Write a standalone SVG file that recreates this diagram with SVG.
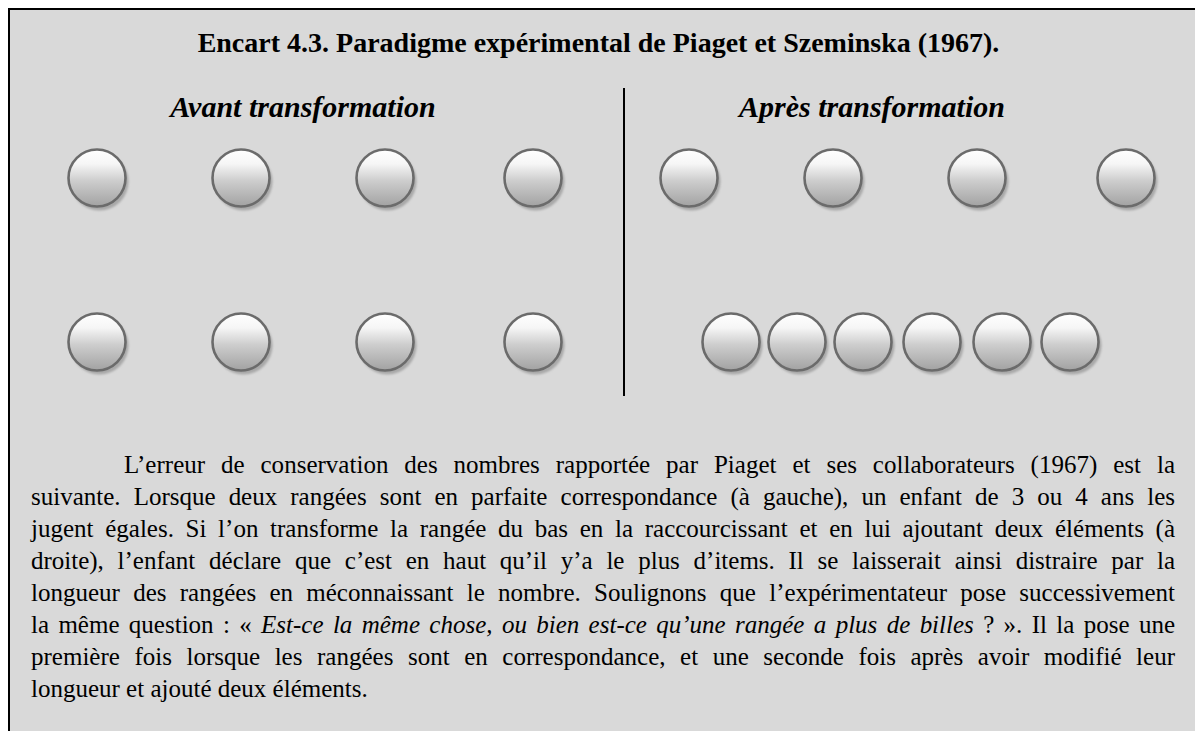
<svg xmlns="http://www.w3.org/2000/svg" xmlns:xlink="http://www.w3.org/1999/xlink" width="1195" height="731" viewBox="0 0 1195 731">
<defs>
<linearGradient id="g" x1="0" y1="0" x2="0" y2="1">
<stop offset="0" stop-color="#ffffff"/>
<stop offset="0.25" stop-color="#f6f6f6"/>
<stop offset="0.55" stop-color="#cdcdcd"/>
<stop offset="1" stop-color="#a2a2a2"/>
</linearGradient>
<filter id="blur" x="-20%" y="-20%" width="140%" height="140%"><feGaussianBlur stdDeviation="0.8"/></filter>
<g id="bead">
<circle cx="2.5" cy="3.5" r="29" fill="#a8a8a8" filter="url(#blur)"/>
<circle cx="0" cy="0" r="28.5" fill="url(#g)" stroke="#6b6b6b" stroke-width="2.6"/>
</g>
</defs>
<style>
.title{font-family:"Liberation Serif","Times New Roman",serif;font-weight:bold;font-size:28px;fill:#000}
.sub{font-family:"Liberation Serif","Times New Roman",serif;font-weight:bold;font-style:italic;font-size:30px;fill:#000}
.body{font-family:"Liberation Serif","Times New Roman",serif;font-size:25px;fill:#000}
.it{font-style:italic}
</style>
<rect x="0" y="0" width="1195" height="731" fill="#ffffff"/>
<rect x="9" y="9" width="1200" height="740" fill="#d9d9d9" stroke="#000" stroke-width="2"/>
<g id="texts">
<text class="title" x="598.5" y="52" text-anchor="middle">Encart 4.3. Paradigme expérimental de Piaget et Szeminska (1967).</text>
<text class="sub" x="303" y="117" text-anchor="middle">Avant transformation</text>
<text class="sub" x="872" y="117" text-anchor="middle">Après transformation</text>
</g>
<g id="connectors">
<line x1="624" y1="88" x2="624" y2="396" stroke="#000" stroke-width="2"/>
</g>
<g id="before-top">
<g id="bt1"><use xlink:href="#bead" x="97" y="178"/></g>
<g id="bt2"><use xlink:href="#bead" x="241" y="178"/></g>
<g id="bt3"><use xlink:href="#bead" x="385" y="178"/></g>
<g id="bt4"><use xlink:href="#bead" x="533" y="178"/></g>
</g>
<g id="before-bottom">
<g id="bb1"><use xlink:href="#bead" x="97" y="342"/></g>
<g id="bb2"><use xlink:href="#bead" x="241" y="342"/></g>
<g id="bb3"><use xlink:href="#bead" x="385" y="342"/></g>
<g id="bb4"><use xlink:href="#bead" x="533" y="342"/></g>
</g>
<g id="after-top">
<g id="at1"><use xlink:href="#bead" x="689" y="178"/></g>
<g id="at2"><use xlink:href="#bead" x="833" y="178"/></g>
<g id="at3"><use xlink:href="#bead" x="977" y="178"/></g>
<g id="at4"><use xlink:href="#bead" x="1126" y="178"/></g>
</g>
<g id="after-bottom">
<g id="ab1"><use xlink:href="#bead" x="731" y="342"/></g>
<g id="ab2"><use xlink:href="#bead" x="797" y="342"/></g>
<g id="ab3"><use xlink:href="#bead" x="863" y="342"/></g>
<g id="ab4"><use xlink:href="#bead" x="932" y="342"/></g>
<g id="ab5"><use xlink:href="#bead" x="1002" y="342"/></g>
<g id="ab6"><use xlink:href="#bead" x="1070" y="342"/></g>
</g>
<g id="paragraph" class="body">
<text x="124" y="473" word-spacing="9.6" textLength="1051" lengthAdjust="spacing">L’erreur de conservation des nombres rapportée par Piaget et ses collaborateurs (1967) est la</text>
<text x="31" y="505" word-spacing="6.8" textLength="1144" lengthAdjust="spacing">suivante. Lorsque deux rangées sont en parfaite correspondance (à gauche), un enfant de 3 ou 4 ans les</text>
<text x="31" y="537" word-spacing="5.4" textLength="1144" lengthAdjust="spacing">jugent égales. Si l’on transforme la rangée du bas en la raccourcissant et en lui ajoutant deux éléments (à</text>
<text x="31" y="569" word-spacing="7.5" textLength="1144" lengthAdjust="spacing">droite), l’enfant déclare que c’est en haut qu’il y’a le plus d’items. Il se laisserait ainsi distraire par la</text>
<text x="31" y="601" word-spacing="7" textLength="1144" lengthAdjust="spacing">longueur des rangées en méconnaissant le nombre. Soulignons que l’expérimentateur pose successivement</text>
<text x="31" y="633" word-spacing="3.1" textLength="1144" lengthAdjust="spacing">la même question : « <tspan class="it">Est-ce la même chose, ou bien est-ce qu’une rangée a plus de billes</tspan> ? ». Il la pose une</text>
<text x="31" y="665" word-spacing="8.3" textLength="1144" lengthAdjust="spacing">première fois lorsque les rangées sont en correspondance, et une seconde fois après avoir modifié leur</text>
<text x="31" y="697">longueur et ajouté deux éléments.</text>
</g>
</svg>
